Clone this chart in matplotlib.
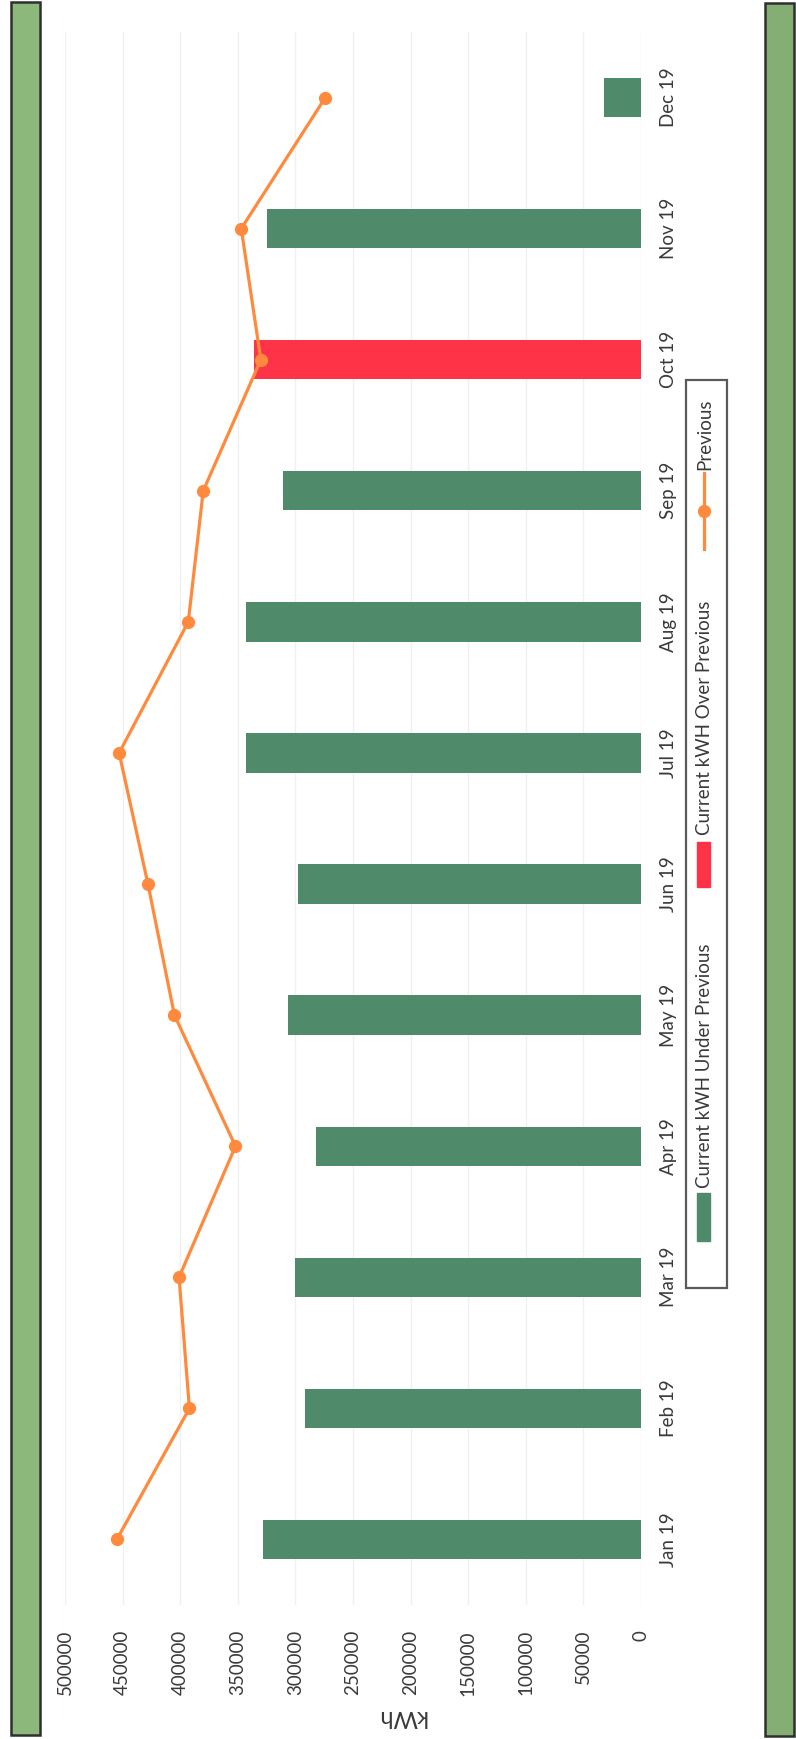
import matplotlib.pyplot as plt
from matplotlib.patches import Rectangle
from matplotlib.lines import Line2D
import numpy as np

months = ['Jan 19', 'Feb 19', 'Mar 19', 'Apr 19', 'May 19', 'Jun 19',
          'Jul 19', 'Aug 19', 'Sep 19', 'Oct 19', 'Nov 19', 'Dec 19']
current = [328000, 292000, 300000, 282000, 306000, 298000,
           343000, 343000, 311000, 336000, 325000, 32500]
previous = [455000, 392000, 401000, 352000, 405000, 428000,
            453000, 393000, 380000, 330000, 347000, 274000]
value_ticks = [0, 50000, 100000, 150000, 200000, 250000,
               300000, 350000, 400000, 450000, 500000]

GREEN = '#4F8A6A'
RED = '#FF3347'
ORANGE = '#FF8A3D'
TXT = '#3a3a3a'

plt.rcParams['font.family'] = ['Lato', 'DejaVu Sans']

W, H = 796, 1739
fig = plt.figure(figsize=(W / 100, H / 100), dpi=100)


def fx(x):
    return x / W


def fy(y):
    # pixel from top -> figure fraction
    return 1 - y / H


# chart is scanned sideways: categories run bottom->top, values right->left
ax = fig.add_axes([fx(65), fy(1605), fx(641) - fx(65), fy(32) - fy(1605)])
pos = np.arange(len(months))
colors = [RED if c > p else GREEN for c, p in zip(current, previous)]
ax.barh(pos, current, height=0.3, color=colors, zorder=2)
ax.plot(previous, pos, color=ORANGE, lw=2.3, marker='o', ms=8.5, zorder=3)

ax.set_xlim(500000, 0)
ax.set_ylim(-0.5, 11.5)
ax.set_xticks(value_ticks)
ax.set_xticklabels([str(v) for v in value_ticks], rotation=90)
ax.xaxis.grid(True, color='#f0f0f0', lw=1)
ax.set_axisbelow(True)
for s in ax.spines.values():
    s.set_visible(False)
ax.tick_params(axis='x', length=0, pad=18, labelsize=13.5, labelcolor=TXT)

ax.yaxis.tick_right()
ax.set_yticks(pos)
ax.set_yticklabels(months, rotation=90, va='center')
ax.tick_params(axis='y', length=0, pad=14, labelsize=13.5, labelcolor=TXT)

fig.text(fx(402), fy(1717), 'kWh', rotation=180, ha='center', va='center',
         fontsize=17, color=TXT)

# legend (drawn by hand because it is rotated)
fig.add_artist(Rectangle((fx(686), fy(1288)), fx(727) - fx(686), fy(380) - fy(1288),
                         transform=fig.transFigure, facecolor='white',
                         edgecolor='#5a5a5a', lw=1.6, zorder=5))
fig.add_artist(Rectangle((fx(697), fy(1241)), fx(710) - fx(697), fy(1193) - fy(1241),
                         transform=fig.transFigure, color=GREEN, zorder=6))
fig.text(fx(705), fy(1188), 'Current kWH Under Previous', rotation=90,
         ha='center', va='bottom', fontsize=13.5, color=TXT, zorder=6)
fig.add_artist(Rectangle((fx(697), fy(887)), fx(710) - fx(697), fy(842) - fy(887),
                         transform=fig.transFigure, color=RED, zorder=6))
fig.text(fx(705), fy(835), 'Current kWH Over Previous', rotation=90,
         ha='center', va='bottom', fontsize=13.5, color=TXT, zorder=6)
fig.add_artist(Line2D([fx(704), fx(704)], [fy(549), fy(473)], transform=fig.transFigure,
                      color=ORANGE, lw=2.3, zorder=6))
fig.add_artist(Line2D([fx(704)], [fy(511)], transform=fig.transFigure, color=ORANGE,
                      marker='o', ms=8.5, zorder=7))
fig.text(fx(705), fy(470), 'Previous', rotation=90,
         ha='center', va='bottom', fontsize=13.5, color=TXT, zorder=6)

# green side bands
fig.add_artist(Rectangle((fx(11), fy(1735)), fx(40) - fx(11), fy(2) - fy(1735),
                         transform=fig.transFigure, facecolor='#8CB87C',
                         edgecolor='#2f2f2f', lw=1.8))
fig.add_artist(Rectangle((fx(765), fy(1736)), fx(794) - fx(765), fy(3) - fy(1736),
                         transform=fig.transFigure, facecolor='#84AE74',
                         edgecolor='#2f2f2f', lw=1.8))

fig.savefig('out.png', dpi=100)
